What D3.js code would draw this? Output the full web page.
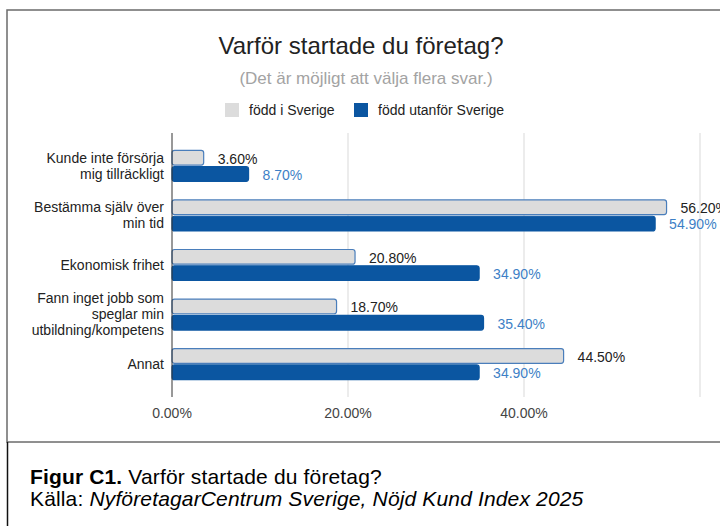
<!DOCTYPE html>
<html>
<head>
<meta charset="utf-8">
<script src="https://cdn.jsdelivr.net/npm/d3@7"></script>
<style>
	body { margin: 0; background: #fff; }
	svg { display: block; font-family: "Liberation Sans", Arial, sans-serif; }
</style>
</head>
<body>
<div id="chart"></div>
<script>
var categories = [
	["Kunde inte försörja", "mig tillräckligt"],
	["Bestämma själv över", "min tid"],
	["Ekonomisk frihet"],
	["Fann inget jobb som", "speglar min", "utbildning/kompetens"],
	["Annat"]
];
var seriesNames = ["född i Sverige", "född utanför Sverige"];
var bornInSweden = [3.6, 56.2, 20.8, 18.7, 44.5];
var bornAbroad = [8.7, 54.9, 34.9, 35.4, 34.9];
var tickValues = [0, 20, 40];
var gridValues = [20, 40, 60];

var width = 720,
    height = 526;
var fills = ["#dcdcdc", "#0b56a1"];
var labelColors = ["#222", "#3d7fc6"];
var fmt = function(v) { return d3.format(".2f")(v) + "%"; };

var svg = d3.select("#chart").append("svg")
	.attr("width", width)
	.attr("height", height);

// frame of the chart + caption rule
svg.append("rect")
	.attr("x", 7).attr("y", 10)
	.attr("width", 740).attr("height", 432)
	.attr("fill", "#fff")
	.attr("stroke", "#6b6b6b")
	.attr("stroke-width", 1.5);
svg.append("line")
	.attr("x1", 7.5).attr("x2", 7.5)
	.attr("y1", 442).attr("y2", height)
	.attr("stroke", "#111")
	.attr("stroke-width", 1.5);

svg.append("text")
	.attr("x", 361).attr("y", 54)
	.attr("text-anchor", "middle")
	.attr("font-size", "24px")
	.attr("fill", "#222")
	.text("Varför startade du företag?");
svg.append("text")
	.attr("x", 366).attr("y", 84)
	.attr("text-anchor", "middle")
	.attr("font-size", "17px")
	.attr("fill", "#a3a3a3")
	.text("(Det är möjligt att välja flera svar.)");

// legend
var legendX = [225, 354];
var legend = svg.append("g").selectAll("g")
	.data(seriesNames)
	.enter().append("g")
	.attr("transform", function(d, i) { return "translate(" + legendX[i] + ",103)"; });
legend.append("rect")
	.attr("width", 14).attr("height", 14)
	.attr("fill", function(d, i) { return fills[i]; });
legend.append("text")
	.attr("x", 24).attr("y", 12)
	.attr("font-size", "14px")
	.attr("fill", "#222")
	.text(function(d) { return d; });

// scales
var x = d3.scaleLinear().domain([0, 60]).range([172, 700]);
var y = d3.scaleBand()
	.domain(d3.range(categories.length))
	.range([133, 397])
	.paddingInner(0.375)
	.paddingOuter(0.35);
var ySub = d3.scaleBand()
	.domain([0, 1])
	.range([0, y.bandwidth()])
	.paddingInner(0.1);

svg.append("g").selectAll("line")
	.data(gridValues)
	.enter().append("line")
	.attr("x1", function(d) { return x(d); })
	.attr("x2", function(d) { return x(d); })
	.attr("y1", 133).attr("y2", 397)
	.attr("stroke", "#d9d9d9")
	.attr("stroke-width", 1);

svg.append("g").selectAll("text")
	.data(tickValues)
	.enter().append("text")
	.attr("x", function(d) { return x(d); })
	.attr("y", 418)
	.attr("text-anchor", "middle")
	.attr("font-size", "14px")
	.attr("fill", "#444")
	.text(fmt);

// category labels
var cats = svg.append("g").selectAll("text")
	.data(categories)
	.enter().append("text")
	.attr("text-anchor", "end")
	.attr("font-size", "14px")
	.attr("fill", "#222");
cats.each(function(lines, i) {
	var cy = y(i) + y.bandwidth() / 2;
	d3.select(this).selectAll("tspan")
		.data(lines)
		.enter().append("tspan")
		.attr("x", 164)
		.attr("y", function(d, j) { return cy + 4.8 + (j - (lines.length - 1) / 2) * 16; })
		.text(function(d) { return d; });
});

// bars
var barData = [];
categories.forEach(function(c, i) {
	barData.push({cat: i, s: 0, value: bornInSweden[i]});
	barData.push({cat: i, s: 1, value: bornAbroad[i]});
});

svg.append("g").selectAll("rect")
	.data(barData)
	.enter().append("rect")
	.attr("x", x(0))
	.attr("y", function(d) { return y(d.cat) + ySub(d.s); })
	.attr("width", function(d) { return x(d.value) - x(0); })
	.attr("height", ySub.bandwidth())
	.attr("rx", 2.5)
	.attr("fill", function(d) { return fills[d.s]; })
	.attr("stroke", function(d) { return d.s == 0 ? "#4a7ebb" : "#0b56a1"; })
	.attr("stroke-width", 1.2);

// value labels (the 56.20% one runs off the right edge, as in the original)
svg.append("g").selectAll("text")
	.data(barData)
	.enter().append("text")
	.attr("x", function(d) { return x(d.value) + 14; })
	.attr("y", function(d) { return y(d.cat) + ySub(d.s) + ySub.bandwidth() - 1.5; })
	.attr("font-size", "14px")
	.attr("fill", function(d) { return labelColors[d.s]; })
	.text(function(d) { return fmt(d.value); });

// axis line on zero
svg.append("line")
	.attr("x1", x(0)).attr("x2", x(0))
	.attr("y1", 133).attr("y2", 397)
	.attr("stroke", "#333")
	.attr("stroke-width", 1);

// caption
var cap1 = svg.append("text")
	.attr("x", 30).attr("y", 484)
	.attr("font-size", "21px")
	.attr("letter-spacing", "0.15px")
	.attr("fill", "#000");
cap1.append("tspan").attr("font-weight", "bold").text("Figur C1.");
cap1.append("tspan").text(" Varför startade du företag?");
var cap2 = svg.append("text")
	.attr("x", 30).attr("y", 506)
	.attr("font-size", "21px")
	.attr("letter-spacing", "0.15px")
	.attr("fill", "#000");
cap2.append("tspan").text("Källa: ");
cap2.append("tspan").attr("font-style", "italic").text("NyföretagarCentrum Sverige, Nöjd Kund Index 2025");
</script>
</body>
</html>
